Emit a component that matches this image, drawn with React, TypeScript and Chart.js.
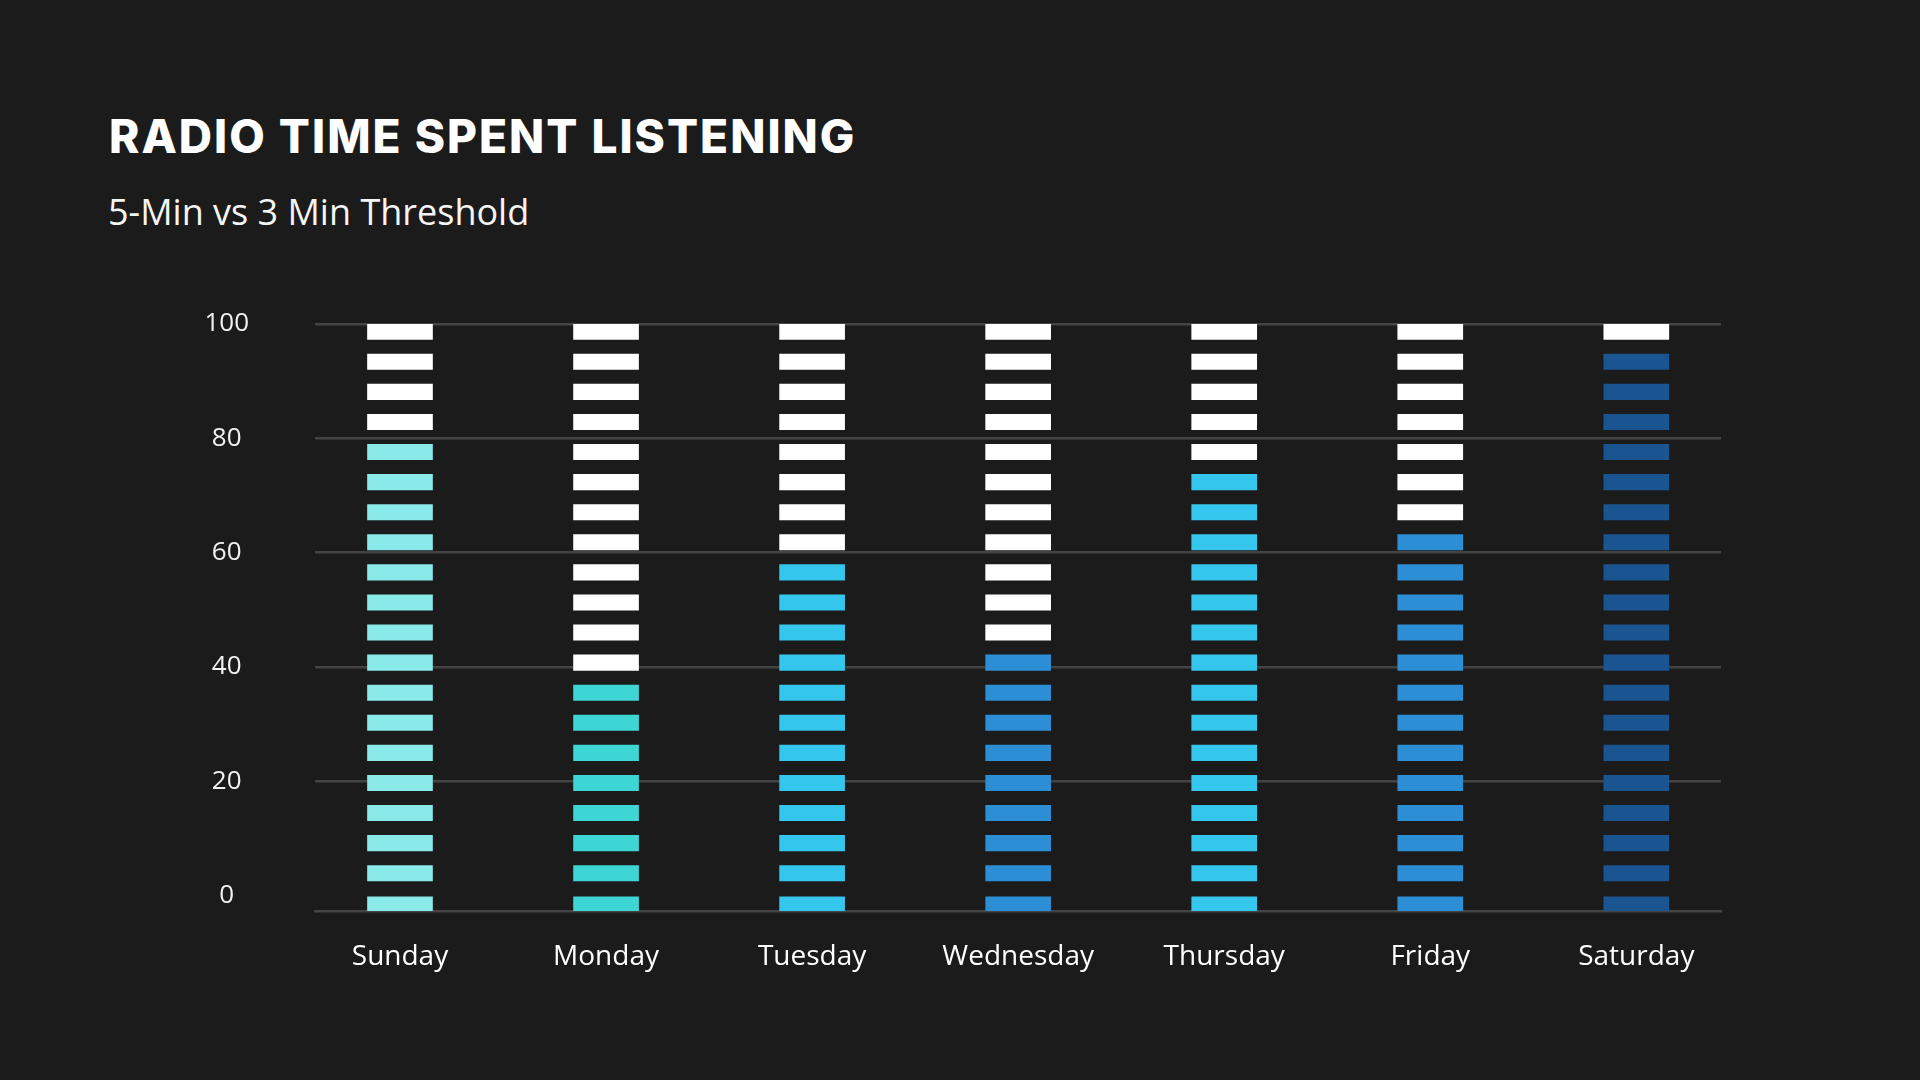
import React, { useEffect, useRef } from "react";
import { Chart, registerables } from "chart.js";

Chart.register(...registerables);

// ---- data ----
const days = ["Sunday", "Monday", "Tuesday", "Wednesday", "Thursday", "Friday", "Saturday"];
// share of listening (percent); each pictogram segment stands for 5%
const listeningShare = [80, 40, 60, 45, 75, 65, 95];
const dayColors = ["#8ae9e9", "#3dd6d5", "#35c6ee", "#2c8fd6", "#35c6ee", "#2c8fd6", "#1a5591"];
const yTicks = [0, 20, 40, 60, 80, 100];
const SEGMENT_COUNT = 20;
const SEGMENT_SIZE = 100 / SEGMENT_COUNT;

const TITLE = "RADIO TIME SPENT LISTENING";
const SUBTITLE = "5-Min vs 3 Min Threshold";

const BG = "#1b1b1b";
const GRID = "#444444";
const SEG_HEIGHT = 2.7; // in axis units

export default function App() {
  const canvasRef = useRef<HTMLCanvasElement | null>(null);

  useEffect(() => {
    const canvas = canvasRef.current;
    if (!canvas) return;

    const pitch = 100 / (SEGMENT_COUNT - 1);
    const datasets = Array.from({ length: SEGMENT_COUNT }, (_, s) => ({
      label: `segment ${s + 1}`,
      data: days.map((_, i) => ({ x: i, y: [s * pitch - SEG_HEIGHT, s * pitch] })),
      backgroundColor: days.map((_, i) =>
        s < Math.round(listeningShare[i] / SEGMENT_SIZE) ? dayColors[i] : "#ffffff"
      ),
      borderWidth: 0,
      barThickness: 65,
      grouped: false,
    }));

    const chart = new Chart(canvas, {
      type: "bar",
      data: { datasets: datasets as any },
      options: {
        animation: false,
        responsive: false,
        maintainAspectRatio: false,
        layout: { padding: { left: 195, right: 199, top: 324, bottom: 89 } },
        plugins: {
          legend: { display: false },
          tooltip: { enabled: false },
          title: { display: false },
        },
        scales: {
          x: {
            type: "linear",
            offset: false,
            min: -0.4125,
            max: 6.411,
            afterBuildTicks: (scale: any) => {
              scale.ticks = days.map((_, i) => ({ value: i }));
            },
            afterFit: (scale: any) => {
              scale.height = 80;
            },
            grid: {
              display: true,
              offset: false,
              color: "rgba(0,0,0,0)",
              drawOnChartArea: false,
              drawTicks: false,
            },
            border: { display: true, color: GRID, width: 2.5 },
            ticks: {
              autoSkip: false,
              maxRotation: 0,
              padding: 29,
              color: "#ffffff",
              font: { family: "'Open Sans', sans-serif", size: 28 },
              callback: (v: any) => days[Number(v)] ?? "",
            },
          },
          y: {
            type: "linear",
            min: -SEG_HEIGHT,
            max: 100,
            afterBuildTicks: (scale: any) => {
              scale.ticks = yTicks.map((v) => ({ value: v }));
            },
            afterFit: (scale: any) => {
              scale.width = 120;
            },
            grid: {
              drawTicks: false,
              lineWidth: 2.5,
              color: (ctx: any) => (ctx.tick && ctx.tick.value === 0 ? "rgba(0,0,0,0)" : GRID),
            },
            border: { display: false },
            ticks: {
              crossAlign: "center",
              padding: 66,
              color: "#f2f2f2",
              font: { family: "'Open Sans', sans-serif", size: 26 },
            },
          },
        },
      },
    });

    return () => chart.destroy();
  }, []);

  return (
    <div
      style={{
        position: "fixed",
        left: 0,
        top: 0,
        width: 1920,
        height: 1080,
        background: BG,
        overflow: "hidden",
      }}
    >
      <div
        style={{
          position: "absolute",
          left: 109,
          top: 113,
          fontFamily: "Inter, 'Open Sans', sans-serif",
          fontWeight: 800,
          fontSize: 46,
          letterSpacing: 2,
          lineHeight: 1,
          color: "#ffffff",
          whiteSpace: "nowrap",
        }}
      >
        {TITLE}
      </div>
      <div
        style={{
          position: "absolute",
          left: 108,
          top: 194,
          fontFamily: "'Open Sans', sans-serif",
          fontWeight: 400,
          fontSize: 36,
          lineHeight: 1,
          color: "#f5f5f5",
          whiteSpace: "nowrap",
        }}
      >
        {SUBTITLE}
      </div>
      <canvas
        ref={canvasRef}
        width={1920}
        height={1080}
        style={{ position: "absolute", left: 0, top: 0, width: 1920, height: 1080 }}
      />
    </div>
  );
}
